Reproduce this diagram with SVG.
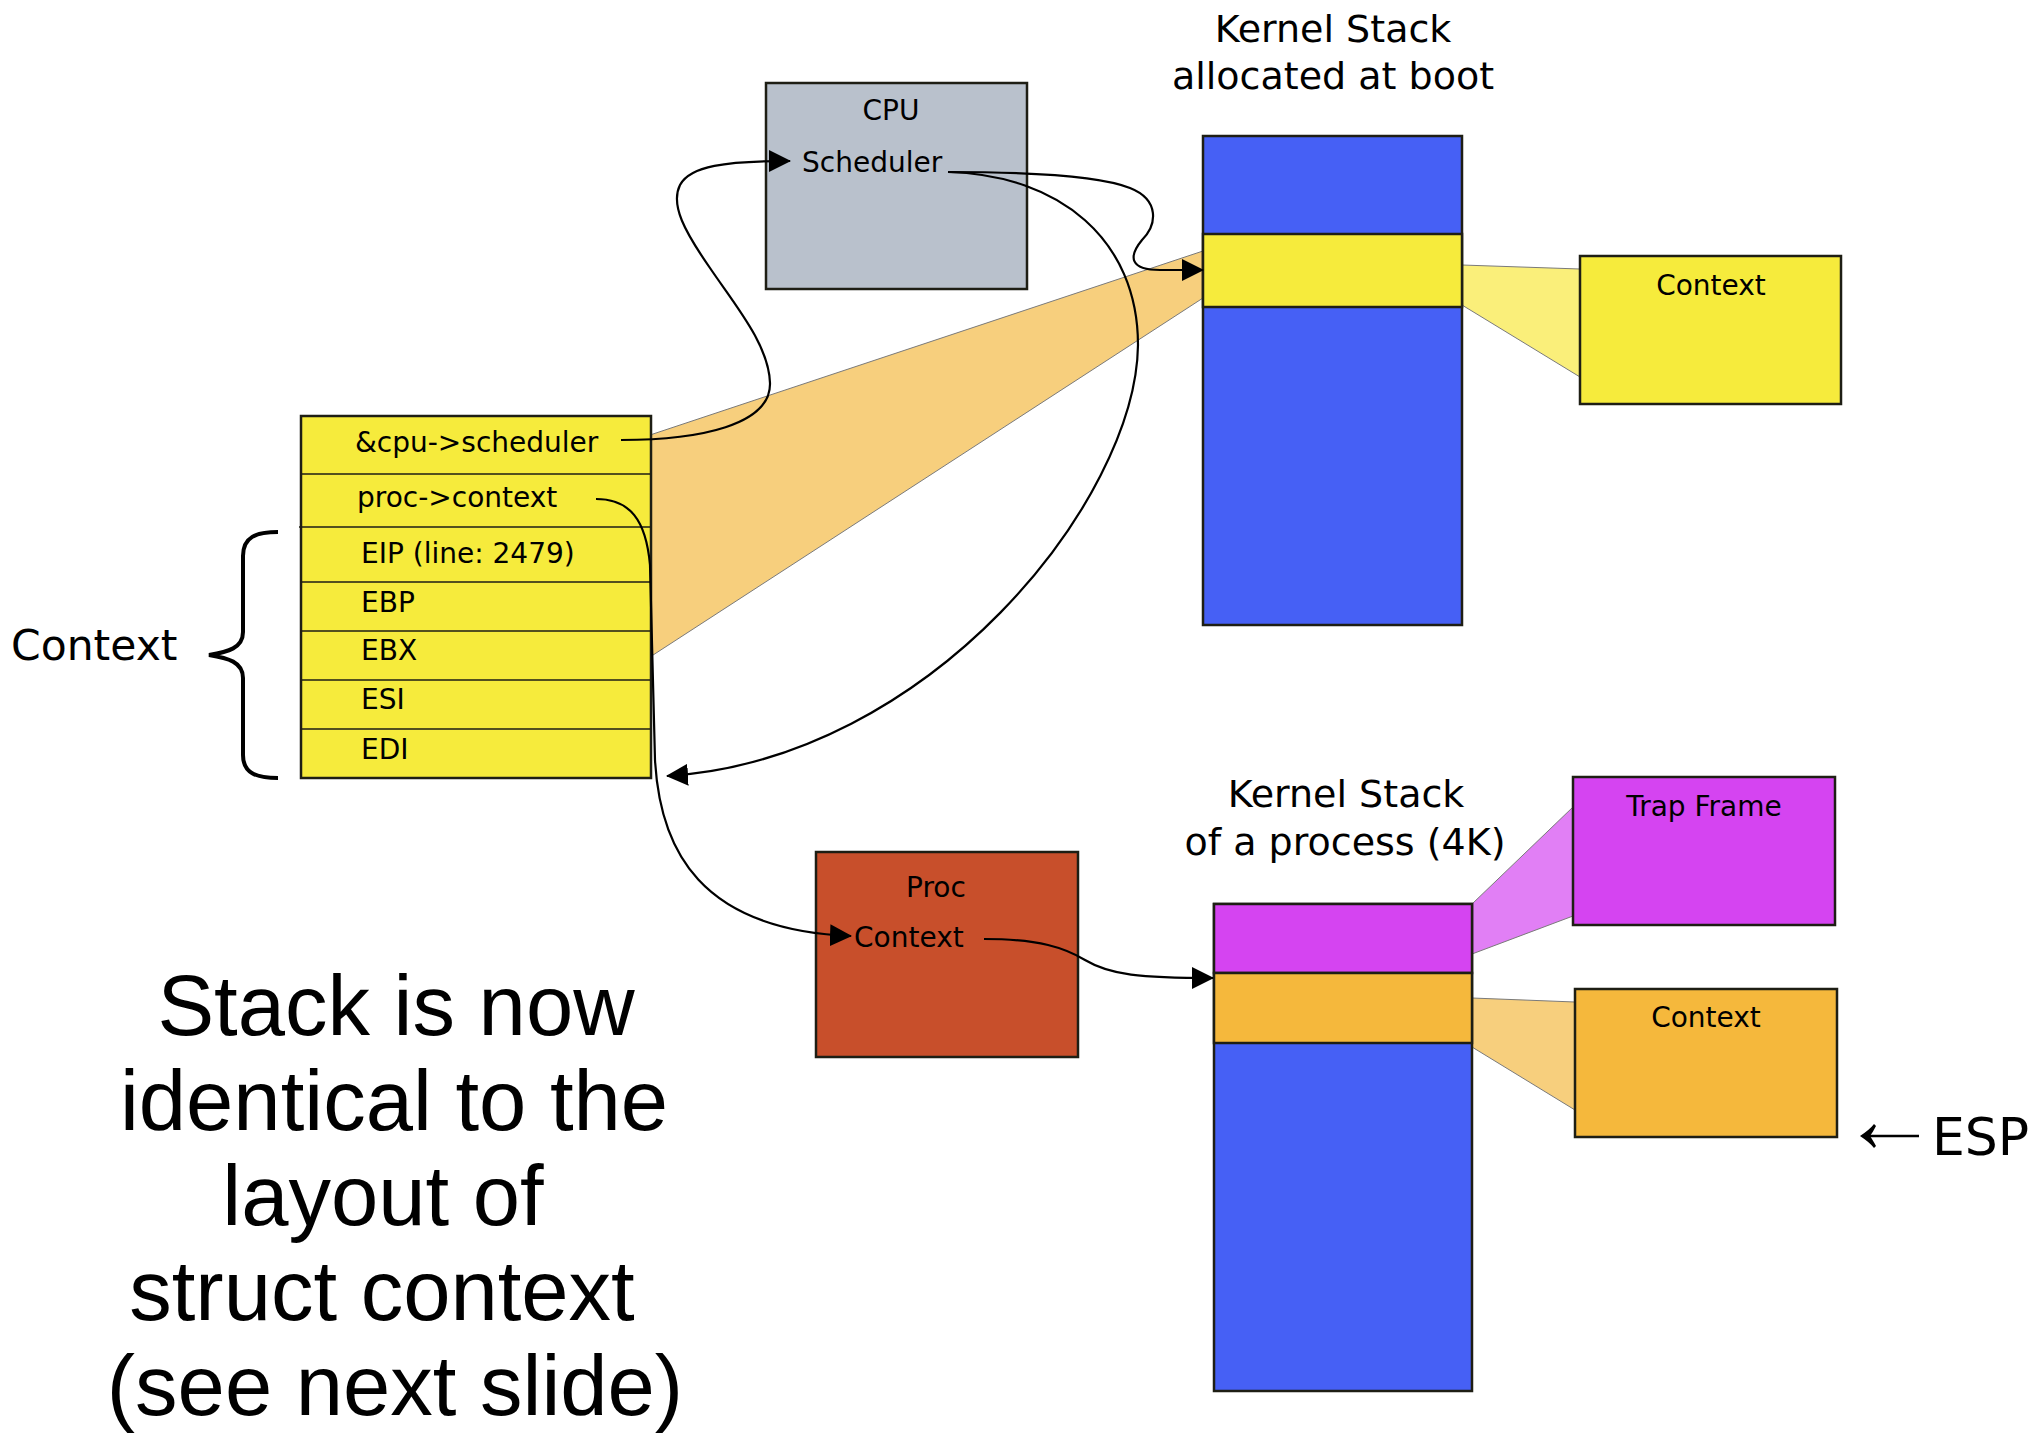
<svg xmlns="http://www.w3.org/2000/svg" width="2039" height="1433" viewBox="0 0 2039 1433">
  <style>
    text { font-family: "DejaVu Sans", "Noto Sans", sans-serif; fill: #000; }
    .lbl { font-size: 28px; }
    .title { font-size: 38px; text-anchor: middle; }
    .mid { text-anchor: middle; }
    .box { stroke: #1e1e14; stroke-width: 2.5; }
    .row { stroke: #1e1e14; stroke-width: 1.3; fill: none; }
    .wedge { stroke: #7a7a7a; stroke-width: 1; }
    .conn { fill: none; stroke: #000; stroke-width: 2.2; }
    .big { font-family: "Liberation Sans", Arial, sans-serif; font-size: 85px; text-anchor: middle; }
  </style>
  <defs>
    <marker id="head" markerUnits="userSpaceOnUse" markerWidth="24" markerHeight="24" refX="21" refY="11" orient="auto">
      <path d="M0,0 L22,11 L0,22 z" fill="#000"/>
    </marker>
  </defs>

  <rect width="2039" height="1433" fill="#fff"/>

  <!-- projection wedges (drawn behind the boxes) -->
  <g id="wedges">
    <polygon class="wedge" points="650,435 1203,251 1203,298 650,657" fill="#f7cf7d"/>
    <polygon class="wedge" points="1462,265 1580,269 1580,377 1462,305" fill="#faef7a"/>
    <polygon class="wedge" points="1472,904 1573,807 1573,916 1472,954" fill="#e17ff5"/>
    <polygon class="wedge" points="1472,998 1575,1002 1575,1110 1472,1047" fill="#f7cf7d"/>
  </g>

  <!-- saved register frame on the scheduler stack -->
  <g id="frame">
    <rect class="box" x="301" y="416" width="350" height="362" fill="#f6eb3c"/>
    <path class="row" d="M301,474 H651 M299,527 H651 M301,582 H651 M301,631 H651 M301,680 H651 M301,729 H651"/>
    <text class="lbl" x="355" y="452">&amp;cpu-&gt;scheduler</text>
    <text class="lbl" x="357" y="507">proc-&gt;context</text>
    <text class="lbl" x="361" y="563">EIP (line: 2479)</text>
    <text class="lbl" x="361" y="612">EBP</text>
    <text class="lbl" x="361" y="660">EBX</text>
    <text class="lbl" x="361" y="709">ESI</text>
    <text class="lbl" x="361" y="759">EDI</text>
  </g>

  <!-- brace marking the context registers -->
  <g id="context-brace">
    <path d="M278,532 C256,532 243,537 243,556 L243,632 C243,648 228,652 209,655 C228,658 243,662 243,678 L243,755 C243,773 256,778 278,778" fill="none" stroke="#000" stroke-width="4"/>
    <text x="11" y="660" font-size="42.5">Context</text>
  </g>

  <g id="cpu">
    <rect class="box" x="766" y="83" width="261" height="206" fill="#b9c1cc"/>
    <text class="lbl mid" x="891" y="120">CPU</text>
    <text class="lbl" x="802" y="172">Scheduler</text>
  </g>

  <g id="boot-stack">
    <text class="title" x="1333" y="42">Kernel Stack</text>
    <text class="title" x="1333" y="89">allocated at boot</text>
    <rect class="box" x="1203" y="136" width="259" height="489" fill="#4660f5"/>
    <rect class="box" x="1203" y="234" width="259" height="73" fill="#f6eb3c"/>
  </g>

  <g id="boot-context">
    <rect class="box" x="1580" y="256" width="261" height="148" fill="#f6eb3c"/>
    <text class="lbl mid" x="1711" y="295">Context</text>
  </g>

  <g id="proc">
    <rect class="box" x="816" y="852" width="262" height="205" fill="#c84f2b"/>
    <text class="lbl mid" x="936" y="897">Proc</text>
    <text class="lbl" x="854" y="947">Context</text>
  </g>

  <g id="proc-stack">
    <text class="title" x="1346" y="807">Kernel Stack</text>
    <text class="title" x="1345" y="855">of a process (4K)</text>
    <rect class="box" x="1214" y="904" width="258" height="487" fill="#4660f5"/>
    <rect class="box" x="1214" y="904" width="258" height="69" fill="#d544f1"/>
    <rect class="box" x="1214" y="973" width="258" height="70" fill="#f5b83c"/>
  </g>

  <g id="trap-frame">
    <rect class="box" x="1573" y="777" width="262" height="148" fill="#d544f1"/>
    <text class="lbl mid" x="1704" y="816">Trap Frame</text>
  </g>

  <g id="proc-context">
    <rect class="box" x="1575" y="989" width="262" height="148" fill="#f5b83c"/>
    <text class="lbl mid" x="1706" y="1027">Context</text>
  </g>

  <g id="esp">
    <path d="M1919,1136 H1866" stroke="#000" stroke-width="2.6" fill="none"/>
    <path d="M1860,1136 C1866,1132 1871,1128 1874,1124 L1876,1126 C1874,1130 1872,1133 1870,1136 C1872,1139 1874,1142 1876,1146 L1874,1148 C1871,1144 1866,1140 1860,1136 z" fill="#000"/>
    <text x="1932" y="1155" font-size="52">ESP</text>
  </g>

  <!-- pointers between structures -->
  <g id="connectors">
    <path class="conn" d="M621,440 C700,440 771,425 770,383 C769,345 735,305 710,268 C685,232 670,205 680,185 C690,166 725,161 790,161" marker-end="url(#head)"/>
    <path class="conn" d="M948,172 C1030,172 1100,176 1130,188 C1160,200 1157,225 1142,240 C1128,257 1130,270 1160,270 L1203,270" marker-end="url(#head)"/>
    <path class="conn" d="M948,172 C1060,175 1138,240 1138,345 C1136,500 930,760 667,776" marker-end="url(#head)"/>
    <path class="conn" d="M596,499 C630,499 646,520 650,565 L655,760 C660,850 700,930 851,936" marker-end="url(#head)"/>
    <path class="conn" d="M984,939 C1040,939 1065,948 1085,960 C1110,975 1140,978 1213,978" marker-end="url(#head)"/>
  </g>

  <g id="note">
    <text class="big" x="396" y="1035">Stack is now</text>
    <text class="big" x="394" y="1130">identical to the</text>
    <text class="big" x="383" y="1225">layout of</text>
    <text class="big" x="382" y="1320">struct context</text>
    <text class="big" x="395" y="1415">(see next slide)</text>
  </g>
</svg>
